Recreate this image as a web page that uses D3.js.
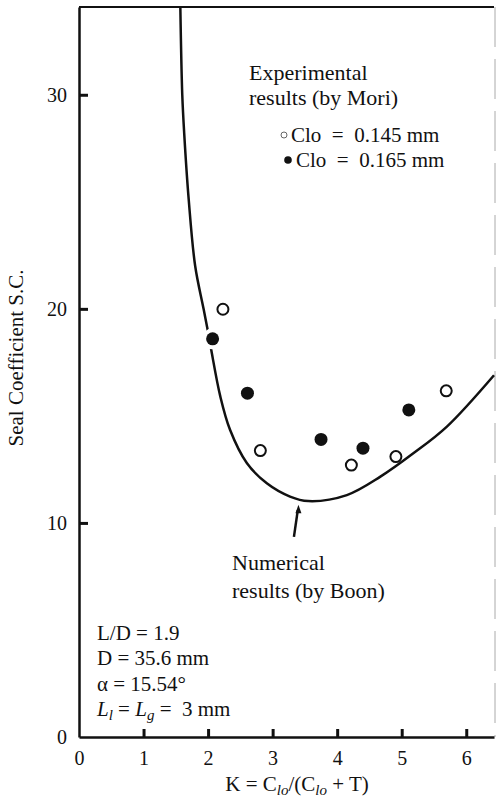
<!DOCTYPE html>
<html>
<head>
<meta charset="utf-8">
<script src="https://cdn.jsdelivr.net/npm/d3@7"></script>
<style>
  html, body { margin: 0; padding: 0; background: #fff; }
</style>
</head>
<body>
<div id="chart"></div>
<script>
// Numerical results (by Boon)
const curveK  = [1.57, 1.60, 1.63, 1.70, 1.80, 1.93, 2.02, 2.06, 2.19, 2.34, 2.60, 2.91, 3.27, 3.55, 4.15, 4.67, 5.18, 5.70, 6.43];
const curveSC = [34.1, 30.0, 28.2, 25.1, 22.0, 20.0, 18.6, 17.9, 15.9, 14.35, 12.8, 11.85, 11.23, 11.02, 11.3, 12.16, 13.25, 14.5, 16.9];

// Experimental results (by Mori)
const openK   = [2.23, 2.81, 4.22, 4.91, 5.69];   // Clo = 0.145 mm
const openSC  = [19.98, 13.38, 12.7, 13.1, 16.17];
const filledK  = [2.07, 2.61, 3.75, 4.40, 5.11];  // Clo = 0.165 mm
const filledSC = [18.6, 16.06, 13.9, 13.49, 15.28];

const xTicks = [0, 1, 2, 3, 4, 5, 6];
const yTicks = [0, 10, 20, 30];

const width = 496, height = 797;
const serif = "Liberation Serif, Times New Roman, serif";
const nb = "\u00a0";

const svg = d3.select("#chart")
    .append("svg")
    .attr("width", width)
    .attr("height", height)
    .attr("font-family", serif);

const x = d3.scaleLinear().domain([0, 6.43]).range([79, 494]);
const y = d3.scaleLinear().domain([0, 34.1]).range([737, 7]);

// frame: top and (faint) right side
svg.append("line")
    .attr("x1", x(0)).attr("x2", x(6.43))
    .attr("y1", y(34.1)).attr("y2", y(34.1))
    .attr("stroke", "#111").attr("stroke-width", 2);
svg.append("line")
    .attr("x1", x(6.43) + 1).attr("x2", x(6.43) + 1)
    .attr("y1", y(34.1)).attr("y2", y(0))
    .attr("stroke", "#aaa").attr("stroke-width", 1)
    .attr("stroke-dasharray", "40 12");

// axes with inward ticks
const xAxis = svg.append("g")
    .attr("transform", `translate(0, ${y(0)})`)
    .call(d3.axisBottom(x).tickValues(xTicks).tickFormat(d3.format("d"))
        .tickSize(-8).tickPadding(14).tickSizeOuter(0));
const yAxis = svg.append("g")
    .attr("transform", `translate(${x(0)}, 0)`)
    .call(d3.axisLeft(y).tickValues(yTicks).tickFormat(d3.format("d"))
        .tickSize(-9).tickPadding(12).tickSizeOuter(0));

[xAxis, yAxis].forEach(g => {
    g.attr("font-family", serif).attr("font-size", 20);
    g.select(".domain").attr("stroke", "#111").attr("stroke-width", 2.5);
    g.selectAll(".tick line").attr("stroke", "#111").attr("stroke-width", 3);
    g.selectAll(".tick text").attr("fill", "#111");
});
xAxis.selectAll(".tick").filter(d => d === 0).select("line").remove();
yAxis.selectAll(".tick").filter(d => d === 0).select("line").remove();

// axis titles
const xTitle = svg.append("text")
    .attr("x", 297).attr("y", 791)
    .attr("text-anchor", "middle")
    .attr("font-size", 21)
    .attr("fill", "#111");
xTitle.append("tspan").text("K = C");
xTitle.append("tspan").attr("font-style", "italic").attr("font-size", 15).attr("dy", 4).text("lo");
xTitle.append("tspan").attr("dy", -4).text("/(C");
xTitle.append("tspan").attr("font-style", "italic").attr("font-size", 15).attr("dy", 4).text("lo");
xTitle.append("tspan").attr("dy", -4).text(" + T)");

svg.append("text")
    .attr("transform", "translate(23, 358) rotate(-90)")
    .attr("text-anchor", "middle")
    .attr("font-size", 21)
    .attr("fill", "#111")
    .text("Seal Coefficient S.C.");

// numerical curve
const line = d3.line()
    .x((d, i) => x(curveK[i]))
    .y(d => y(d))
    .curve(d3.curveCatmullRom.alpha(0.5));

svg.append("path")
    .datum(curveSC)
    .attr("d", line)
    .attr("fill", "none")
    .attr("stroke", "#111")
    .attr("stroke-width", 2.5);

// experimental points
svg.selectAll(".open-point")
    .data(openSC)
    .enter()
    .append("circle")
    .attr("class", "open-point")
    .attr("cx", (d, i) => x(openK[i]))
    .attr("cy", d => y(d))
    .attr("r", 5.5)
    .attr("fill", "#fff")
    .attr("stroke", "#111")
    .attr("stroke-width", 2);

// white halo mimics the break in the curve under the points
svg.selectAll(".filled-halo")
    .data(filledSC)
    .enter()
    .append("circle")
    .attr("class", "filled-halo")
    .attr("cx", (d, i) => x(filledK[i]))
    .attr("cy", d => y(d))
    .attr("r", 10.5)
    .attr("fill", "#fff");

svg.selectAll(".filled-point")
    .data(filledSC)
    .enter()
    .append("circle")
    .attr("class", "filled-point")
    .attr("cx", (d, i) => x(filledK[i]))
    .attr("cy", d => y(d))
    .attr("r", 6.5)
    .attr("fill", "#111");

// arrow pointing at the curve minimum
svg.append("line")
    .attr("x1", x(3.33)).attr("y1", y(9.35))
    .attr("x2", x(3.39)).attr("y2", y(10.6))
    .attr("stroke", "#111").attr("stroke-width", 2.5);
svg.append("path")
    .attr("d", `M${x(3.40)},${y(10.85)} L${x(3.40) - 3},${y(10.45)} L${x(3.40) + 3},${y(10.45)} Z`)
    .attr("fill", "#111");

// annotation blocks
const addLines = (lines, x0, baselines, size) => {
    lines.forEach((t, i) => {
        svg.append("text")
            .attr("x", x0).attr("y", baselines[i])
            .attr("font-size", size)
            .attr("fill", "#111")
            .text(t);
    });
};

addLines(["Experimental", "results (by Mori)"], 249, [80, 105], 22);
addLines(["Numerical", "results (by Boon)"], 232, [570, 598], 22);

// legend
svg.append("circle").attr("cx", 284).attr("cy", 135).attr("r", 3)
    .attr("fill", "#fff").attr("stroke", "#666").attr("stroke-width", 1);
svg.append("text").attr("x", 291).attr("y", 142).attr("font-size", 21)
    .attr("fill", "#111").text(`Clo${nb}${nb}=${nb}${nb}0.145${nb}mm`);
svg.append("circle").attr("cx", 288).attr("cy", 160).attr("r", 3.8).attr("fill", "#111");
svg.append("text").attr("x", 296).attr("y", 167).attr("font-size", 21)
    .attr("fill", "#111").text(`Clo${nb}${nb}=${nb}${nb}0.165${nb}mm`);

// geometry parameters
addLines(["L/D = 1.9", "D = 35.6 mm", "\u03b1 = 15.54\u00b0"], 97, [640, 665, 691], 21);
const lt = svg.append("text").attr("x", 97).attr("y", 716).attr("font-size", 21).attr("fill", "#111");
lt.append("tspan").attr("font-style", "italic").text("L");
lt.append("tspan").attr("font-style", "italic").attr("font-size", 15).attr("dy", 4).text("l");
lt.append("tspan").attr("dy", -4).text(" = ");
lt.append("tspan").attr("font-style", "italic").text("L");
lt.append("tspan").attr("font-style", "italic").attr("font-size", 15).attr("dy", 4).text("g");
lt.append("tspan").attr("dy", -4).text(` =${nb}${nb}3 mm`);
</script>
</body>
</html>
